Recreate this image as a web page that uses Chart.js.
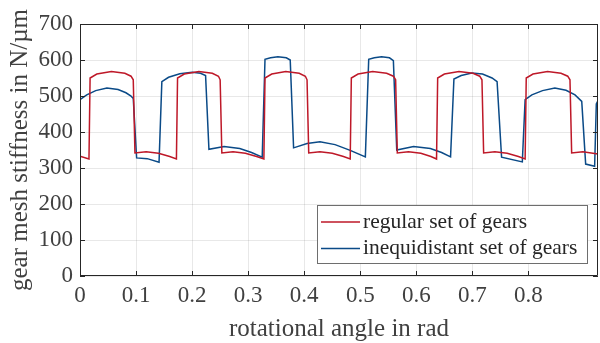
<!DOCTYPE html>
<html>
<head>
<meta charset="utf-8">
<script src="https://cdn.jsdelivr.net/npm/chart.js@4.4.1/dist/chart.umd.min.js"></script>
<style>
html,body{margin:0;padding:0;background:#fff}
</style>
</head>
<body>
<canvas id="c" width="600" height="343"></canvas>
<script>
// values: rotational angle (rad) -> mesh stiffness (N/µm)
const angleRegular = [0, 0.016, 0.018, 0.030, 0.056, 0.080, 0.091, 0.095, 0.098, 0.118, 0.140, 0.160, 0.172,
  0.174, 0.186, 0.212, 0.236, 0.247, 0.250, 0.253, 0.273, 0.295, 0.315, 0.328,
  0.330, 0.342, 0.367, 0.391, 0.402, 0.405, 0.408, 0.428, 0.450, 0.470, 0.482,
  0.484, 0.496, 0.522, 0.547, 0.559, 0.563, 0.566, 0.586, 0.608, 0.626, 0.636,
  0.638, 0.650, 0.676, 0.701, 0.713, 0.717, 0.720, 0.740, 0.762, 0.782, 0.794,
  0.796, 0.808, 0.834, 0.858, 0.870, 0.874, 0.877, 0.897, 0.924]
const stiffRegular = [333, 325, 550, 561, 568, 563, 555, 545, 342, 345, 341, 332, 325,
  550, 561, 568, 563, 555, 545, 342, 345, 341, 332, 325,
  550, 561, 568, 563, 555, 545, 342, 345, 341, 332, 325,
  550, 561, 568, 563, 555, 545, 342, 345, 341, 332, 325,
  550, 561, 568, 563, 555, 545, 342, 345, 341, 332, 325,
  550, 561, 568, 563, 555, 545, 342, 345, 339]

const angleIneq = [0, 0.012, 0.028, 0.048, 0.068, 0.082, 0.091, 0.095, 0.101, 0.120, 0.141,
  0.146, 0.158, 0.178, 0.200, 0.215, 0.224, 0.230, 0.257, 0.285, 0.306, 0.325,
  0.330, 0.340, 0.353, 0.368, 0.375, 0.381, 0.405, 0.428, 0.455, 0.482, 0.509,
  0.515, 0.525, 0.538, 0.552, 0.559, 0.565, 0.595, 0.625, 0.645, 0.661,
  0.667, 0.680, 0.699, 0.718, 0.735, 0.744, 0.752, 0.789,
  0.794, 0.806, 0.825, 0.847, 0.867, 0.883, 0.895, 0.902, 0.918, 0.921, 0.924]
const stiffIneq = [490, 503, 515, 522, 518, 509, 500, 493, 328, 326, 316,
  540, 552, 562, 566, 563, 557, 352, 360, 354, 343, 330,
  602, 606, 609, 606, 600, 356, 368, 373, 365, 349, 331,
  602, 606, 609, 606, 598, 350, 360, 354, 343, 331,
  547, 557, 564, 561, 550, 540, 330, 317,
  490, 503, 515, 522, 516, 503, 485, 311, 305, 478, 487]

const xTicks = [0, 0.1, 0.2, 0.3, 0.4, 0.5, 0.6, 0.7, 0.8]
const yTicks = [0, 100, 200, 300, 400, 500, 600, 700]

const toPts = (xs, ys) => xs.map((x, i) => ({x: x, y: ys[i]}))
const axisCol = '#262626'
const textCol = '#404040'
const serif = 'Liberation Serif'

// ticks pointing inwards on all four sides + legend box inside the axes
const matlabBits = {
  id: 'matlabBits',
  afterDatasetsDraw(chart) {
    const {ctx, chartArea: a, scales} = chart
    ctx.save()
    ctx.strokeStyle = axisCol
    ctx.lineWidth = 1
    ctx.beginPath()
    ctx.rect(a.left + 0.5, a.top + 0.5, a.right - a.left - 1, a.bottom - a.top - 1)
    scales.x.ticks.forEach(t => {
      const px = Math.round(scales.x.getPixelForValue(t.value)) + 0.5
      ctx.moveTo(px, a.bottom); ctx.lineTo(px, a.bottom - 5)
      ctx.moveTo(px, a.top); ctx.lineTo(px, a.top + 5)
    })
    scales.y.ticks.forEach(t => {
      const py = Math.round(scales.y.getPixelForValue(t.value)) + 0.5
      ctx.moveTo(a.left, py); ctx.lineTo(a.left + 5, py)
      ctx.moveTo(a.right, py); ctx.lineTo(a.right - 5, py)
    })
    ctx.stroke()

    // legend
    const bx = 317, by = 205, bw = 270, bh = 58
    ctx.fillStyle = '#fff'
    ctx.fillRect(bx, by, bw, bh)
    ctx.strokeStyle = '#6e6e6e'
    ctx.strokeRect(bx + 0.5, by + 0.5, bw, bh)
    ctx.font = '21.5px "' + serif + '"'
    ctx.textBaseline = 'middle'
    ctx.fillStyle = axisCol
    chart.data.datasets.forEach((ds, i) => {
      const y = by + 17 + i * 26.5
      ctx.strokeStyle = ds.borderColor
      ctx.lineWidth = 1.5
      ctx.beginPath()
      ctx.moveTo(bx + 4, y); ctx.lineTo(bx + 43, y)
      ctx.stroke()
      ctx.fillText(ds.label, bx + 46, y)
    })
    ctx.restore()
  }
}

new Chart(document.getElementById('c'), {
  type: 'line',
  data: {
    datasets: [
      {label: 'regular set of gears', data: toPts(angleRegular, stiffRegular),
        borderColor: 'rgb(190,24,40)', borderWidth: 1.5, pointRadius: 0, tension: 0},
      {label: 'inequidistant set of gears', data: toPts(angleIneq, stiffIneq),
        borderColor: 'rgb(10,74,135)', borderWidth: 1.5, pointRadius: 0, tension: 0}
    ]
  },
  options: {
    responsive: false,
    animation: false,
    devicePixelRatio: 1,
    layout: {padding: {top: 24, right: 2, left: 0, bottom: 0}},
    plugins: {legend: {display: false}, tooltip: {enabled: false}},
    scales: {
      x: {
        type: 'linear', min: 0, max: 0.924,
        afterBuildTicks: s => { s.ticks = xTicks.map(v => ({value: v})) },
        afterFit: s => { s.height = 67 },
        ticks: {color: textCol, font: {family: serif, size: 23}, padding: 6, maxRotation: 0,
          callback: v => String(+v.toFixed(1))},
        grid: {color: 'rgba(0,0,0,0.09)', drawTicks: false},
        border: {display: false},
        title: {display: true, text: 'rotational angle in rad', color: textCol,
          font: {family: serif, size: 25, lineHeight: 1.1}, padding: {top: 0, bottom: 0}}
      },
      y: {
        min: 0, max: 700,
        afterBuildTicks: s => { s.ticks = yTicks.map(v => ({value: v})) },
        afterFit: s => { s.width = 80 },
        ticks: {color: textCol, font: {family: serif, size: 23}, padding: 7},
        grid: {color: 'rgba(0,0,0,0.09)', drawTicks: false},
        border: {display: false},
        title: {display: true, text: 'gear mesh stiffness in N/µm', color: textCol,
          font: {family: serif, size: 25, lineHeight: 1.1}, padding: {top: 7, bottom: 0}}
      }
    }
  },
  plugins: [matlabBits]
})
</script>
</body>
</html>
